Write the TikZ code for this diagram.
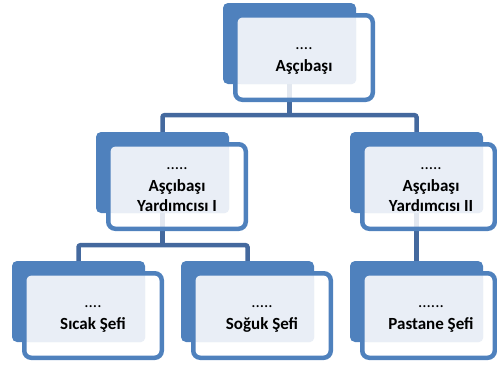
\documentclass[tikz,border=0pt]{standalone}
\usepackage{fontspec}
\setmainfont{Carlito}
\usetikzlibrary{positioning}
\definecolor{boxblue}{HTML}{4F81BD}
\definecolor{linkblue}{HTML}{44699E}
\definecolor{paleblue}{HTML}{E9EEF6}
\pgfdeclarelayer{background}
\pgfsetlayers{background,main}

\begin{document}
\begin{tikzpicture}
	[x=1pt, y=-1pt,
	back/.style = {fill=boxblue, rounded corners=5pt, minimum width=133pt, minimum height=81pt, inner sep=0pt},
	frame/.style = {draw=boxblue, line width=4.5pt, fill=white, fill opacity=0.85, rounded corners=7pt,
		minimum width=137.5pt, minimum height=84.5pt, inner sep=0pt,
		path picture={\fill[paleblue, fill opacity=1, rounded corners=4pt]
			([shift={(2,2)}]path picture bounding box.north west) rectangle
			([shift={(120.75,68.75)}]path picture bounding box.north west);}},
	rframe/.style = {frame, minimum width=132.5pt},
	lbl/.style = {align=center, font=\fontsize{17}{20}\selectfont\bfseries, inner sep=0pt},
	link/.style = {draw=linkblue, line width=4.5pt, rounded corners=2pt}]
	\useasboundingbox (0,0) rectangle (497,367);
	% back plates
	\node[back] (chefB) at (289.5,43.5) {};
	\node[back] (asst1B) at (162.5,172.5) {};
	\node[back] (asst2B) at (416.5,172.5) {};
	\node[back] (hotB) at (78.5,301.5) {};
	\node[back] (coldB) at (247.5,301.5) {};
	\node[back] (pastryB) at (416.5,301.5) {};
	% frames
	\node[frame] (chef) at ([shift={(14.5,14)}]chefB.center) {};
	\node[frame] (asst1) at ([shift={(14.5,14)}]asst1B.center) {};
	\node[rframe] (asst2) at ([shift={(12,14)}]asst2B.center) {};
	\node[frame] (hot) at ([shift={(14.5,14)}]hotB.center) {};
	\node[frame] (cold) at ([shift={(14.5,14)}]coldB.center) {};
	\node[rframe] (pastry) at ([shift={(12,14)}]pastryB.center) {};
	% texts
	\node[lbl] (chefT) at ([shift={(14.5,17)}]chefB.center) {{\mdseries ....}\\[2pt] Aşçıbaşı};
	\node[lbl] (asst1T) at ([shift={(14.5,17)}]asst1B.center) {{\mdseries .....}\\[2pt] Aşçıbaşı\\ Yardımcısı I};
	\node[lbl] (asst2T) at ([shift={(14.5,17)}]asst2B.center) {{\mdseries .....}\\[2pt] Aşçıbaşı\\ Yardımcısı II};
	\node[lbl] (hotT) at ([shift={(14.5,17)}]hotB.center) {{\mdseries ....}\\[2pt] Sıcak Şefi};
	\node[lbl] (coldT) at ([shift={(14.5,17)}]coldB.center) {{\mdseries .....}\\[2pt] Soğuk Şefi};
	\node[lbl] (pastryT) at ([shift={(14.5,17)}]pastryB.center) {{\mdseries ......}\\[2pt] Pastane Şefi};
	% connectors
	\begin{pgfonlayer}{background}
		\coordinate (j1) at ([shift={(0,31)}]chefB.south);
		\coordinate (j2) at ([shift={(0,32)}]asst1B.south);
		\draw[link] (chefB.south) -- (j1);
		\draw[link] (asst1B.north) |- (j1) -| (asst2B.north);
		\draw[link] (asst1B.south) -- (j2);
		\draw[link] (hotB.north) |- (j2) -| (coldB.north);
		\draw[link] (asst2B.south) -- (pastryB.north);
	\end{pgfonlayer}
\end{tikzpicture}
\end{document}
